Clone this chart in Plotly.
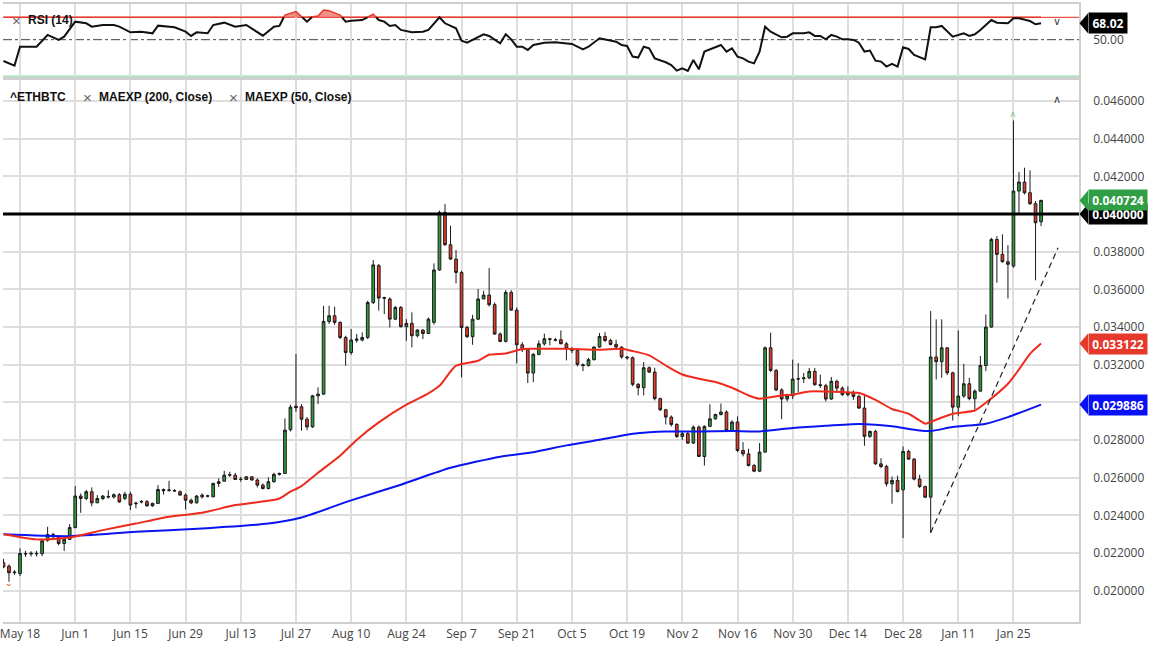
import pandas as pd
import plotly.graph_objects as go

# ---------------- data ----------------
dates = pd.bdate_range("2020-05-13", "2021-02-01")

opens = [0.02149,0.02131,0.02096,0.02092,0.02198,0.02196,0.02199,0.02197,0.02269,0.02299,
 0.02287,0.02251,0.02273,0.02336,0.02503,0.02490,0.02526,0.02467,0.02490,0.02501,
 0.02498,0.02510,0.02490,0.02513,0.02462,0.02471,0.02473,0.02451,0.02464,0.02538,
 0.02533,0.02532,0.02526,0.02508,0.02481,0.02467,0.02508,0.02502,0.02499,0.02570,
 0.02582,0.02614,0.02614,0.02591,0.02591,0.02605,0.02588,0.02561,0.02543,0.02579,
 0.02618,0.02623,0.02855,0.02980,0.02977,0.02911,0.02870,0.03035,0.03044,0.03430,
 0.03460,0.03425,0.03345,0.03265,0.03330,0.03331,0.03345,0.03530,0.03726,0.03557,
 0.03549,0.03442,0.03504,0.03402,0.03420,0.03354,0.03384,0.03366,0.03425,0.03703,
 0.04009,0.03837,0.03761,0.03690,0.03398,0.03349,0.03442,0.03549,0.03570,0.03519,
 0.03363,0.03324,0.03584,0.03490,0.03306,0.03280,0.03156,0.03255,0.03311,0.03338,
 0.03333,0.03333,0.03311,0.03285,0.03276,0.03200,0.03196,0.03227,0.03294,0.03350,
 0.03329,0.03308,0.03294,0.03241,0.03237,0.03096,0.03078,0.03184,0.03161,0.03020,
 0.02961,0.02922,0.02883,0.02819,0.02834,0.02784,0.02869,0.02713,0.02873,0.02913,
 0.02936,0.02949,0.02851,0.02896,0.02745,0.02727,0.02665,0.02635,0.02736,0.03290,
 0.03170,0.03066,0.03018,0.03035,0.03124,0.03126,0.03130,0.03165,0.03094,0.03089,
 0.03018,0.03112,0.03076,0.03041,0.03053,0.03032,0.02970,0.02820,0.02846,0.02674,
 0.02660,0.02568,0.02586,0.02536,0.02740,0.02699,0.02593,0.02554,0.02497,0.03241,
 0.03216,0.03290,0.03157,0.02975,0.03034,0.03099,0.03020,0.03060,0.03196,0.03400,
 0.03865,0.03786,0.03747,0.03724,0.04122,0.04170,0.04113,0.04055,0.03959]

highs = [0.02170,0.02140,0.02110,0.02225,0.02212,0.02210,0.02212,0.02272,0.02340,0.02308,
 0.02296,0.02278,0.02354,0.02556,0.02517,0.02535,0.02549,0.02508,0.02508,0.02534,
 0.02517,0.02519,0.02526,0.02526,0.02473,0.02482,0.02482,0.02468,0.02561,0.02543,
 0.02584,0.02540,0.02533,0.02517,0.02490,0.02508,0.02517,0.02510,0.02574,0.02597,
 0.02637,0.02632,0.02626,0.02605,0.02608,0.02608,0.02597,0.02570,0.02602,0.02627,
 0.02627,0.02915,0.02988,0.03257,0.02991,0.02923,0.03040,0.03080,0.03513,0.03513,
 0.03508,0.03430,0.03354,0.03390,0.03363,0.03372,0.03540,0.03756,0.03735,0.03561,
 0.03558,0.03512,0.03512,0.03442,0.03478,0.03389,0.03389,0.03451,0.03738,0.04018,
 0.04053,0.03938,0.03809,0.03699,0.03407,0.03465,0.03602,0.03593,0.03713,0.03531,
 0.03372,0.03596,0.03596,0.03504,0.03320,0.03285,0.03262,0.03329,0.03365,0.03343,
 0.03343,0.03382,0.03320,0.03294,0.03285,0.03207,0.03237,0.03297,0.03368,0.03373,
 0.03338,0.03333,0.03297,0.03246,0.03244,0.03103,0.03214,0.03191,0.03184,0.03025,
 0.02966,0.02931,0.02890,0.02843,0.02843,0.02878,0.02878,0.02878,0.02990,0.02940,
 0.02994,0.02958,0.02905,0.02926,0.02789,0.02754,0.02674,0.02784,0.03297,0.03370,
 0.03177,0.03075,0.03046,0.03227,0.03209,0.03156,0.03183,0.03183,0.03147,0.03099,
 0.03135,0.03121,0.03085,0.03085,0.03064,0.03041,0.03035,0.02851,0.02855,0.02704,
 0.02669,0.02607,0.02611,0.02766,0.02749,0.02704,0.02616,0.02558,0.03485,0.03441,
 0.03441,0.03294,0.03163,0.03382,0.03205,0.03131,0.03069,0.03246,0.03467,0.03874,
 0.03883,0.03892,0.03835,0.04497,0.04223,0.04246,0.04232,0.04069,0.04076]

lows = [0.02120,0.02048,0.02085,0.02078,0.02180,0.02182,0.02182,0.02184,0.02260,0.02278,
 0.02242,0.02212,0.02270,0.02331,0.02414,0.02481,0.02449,0.02467,0.02481,0.02490,
 0.02490,0.02467,0.02481,0.02429,0.02438,0.02464,0.02446,0.02446,0.02461,0.02511,
 0.02526,0.02526,0.02505,0.02432,0.02460,0.02463,0.02490,0.02496,0.02496,0.02552,
 0.02579,0.02605,0.02588,0.02579,0.02588,0.02586,0.02549,0.02538,0.02538,0.02574,
 0.02612,0.02620,0.02846,0.02950,0.02850,0.02853,0.02865,0.02991,0.03040,0.03416,
 0.03412,0.03336,0.03195,0.03253,0.03318,0.03324,0.03336,0.03522,0.03487,0.03469,
 0.03398,0.03437,0.03398,0.03327,0.03292,0.03345,0.03336,0.03363,0.03413,0.03700,
 0.03832,0.03756,0.03632,0.03133,0.03342,0.03306,0.03437,0.03549,0.03509,0.03359,
 0.03319,0.03319,0.03487,0.03207,0.03268,0.03103,0.03108,0.03250,0.03302,0.03303,
 0.03324,0.03318,0.03223,0.03262,0.03191,0.03166,0.03191,0.03223,0.03290,0.03320,
 0.03303,0.03285,0.03232,0.03227,0.03086,0.03037,0.03037,0.03156,0.03011,0.02954,
 0.02883,0.02872,0.02812,0.02801,0.02780,0.02780,0.02710,0.02665,0.02869,0.02908,
 0.02931,0.02843,0.02843,0.02736,0.02713,0.02660,0.02630,0.02630,0.02736,0.03162,
 0.03060,0.02911,0.03005,0.03018,0.03053,0.03103,0.03124,0.03089,0.03076,0.03005,
 0.03014,0.03050,0.03035,0.03032,0.03014,0.02965,0.02770,0.02811,0.02669,0.02651,
 0.02554,0.02462,0.02522,0.02280,0.02695,0.02586,0.02545,0.02492,0.02308,0.03122,
 0.03131,0.03145,0.02904,0.02927,0.03025,0.03011,0.02963,0.03057,0.03166,0.03397,
 0.03635,0.03742,0.03552,0.03715,0.04007,0.04104,0.04049,0.03648,0.03936]

closes = [0.02127,0.02096,0.02099,0.02198,0.02196,0.02199,0.02197,0.02265,0.02299,0.02287,
 0.02251,0.02273,0.02336,0.02503,0.02490,0.02526,0.02467,0.02490,0.02503,0.02498,
 0.02510,0.02472,0.02513,0.02455,0.02465,0.02474,0.02451,0.02464,0.02538,0.02531,
 0.02535,0.02530,0.02508,0.02481,0.02467,0.02503,0.02499,0.02504,0.02570,0.02579,
 0.02614,0.02616,0.02591,0.02592,0.02605,0.02588,0.02561,0.02543,0.02579,0.02618,
 0.02623,0.02853,0.02975,0.02972,0.02911,0.02870,0.03035,0.03044,0.03430,0.03460,
 0.03425,0.03345,0.03265,0.03331,0.03336,0.03345,0.03530,0.03730,0.03554,0.03553,
 0.03442,0.03504,0.03402,0.03420,0.03354,0.03384,0.03366,0.03442,0.03703,0.04009,
 0.03837,0.03761,0.03690,0.03398,0.03349,0.03442,0.03549,0.03570,0.03519,0.03363,
 0.03324,0.03584,0.03490,0.03306,0.03280,0.03156,0.03255,0.03311,0.03338,0.03335,
 0.03330,0.03311,0.03285,0.03276,0.03202,0.03196,0.03227,0.03294,0.03350,0.03329,
 0.03308,0.03294,0.03241,0.03237,0.03096,0.03078,0.03184,0.03161,0.03020,0.02961,
 0.02922,0.02883,0.02819,0.02834,0.02784,0.02869,0.02713,0.02873,0.02913,0.02936,
 0.02949,0.02851,0.02896,0.02745,0.02727,0.02665,0.02635,0.02736,0.03290,0.03170,
 0.03066,0.03018,0.03035,0.03124,0.03126,0.03130,0.03165,0.03094,0.03090,0.03018,
 0.03112,0.03076,0.03041,0.03053,0.03032,0.02970,0.02820,0.02846,0.02674,0.02660,
 0.02568,0.02586,0.02527,0.02740,0.02699,0.02593,0.02554,0.02497,0.03241,0.03216,
 0.03290,0.03157,0.02975,0.03034,0.03099,0.03020,0.03060,0.03196,0.03400,0.03865,
 0.03786,0.03747,0.03733,0.04122,0.04170,0.04113,0.04055,0.03954,0.040724]

ema50_idx = [0,6,12,18,24,30,36,42,48,50,52,54,57,61,64,68,73,77,79,82,86,88,91,94,96,
             102,108,112,114,117,120,123,126,129,132,135,137,138,141,143,146,149,152,155,
             158,161,164,166,167,168,172,176,178,182,184,186,188]
ema50_val = [0.02300,0.02273,0.02283,0.02322,0.02357,0.02393,0.02414,0.02455,0.02478,0.02490,
             0.02526,0.02556,0.02627,0.02717,0.02801,0.02894,0.02988,0.03048,0.03088,0.03195,
             0.03221,0.03253,0.03260,0.03283,0.03285,0.03285,0.03280,0.03285,0.03273,0.03250,
             0.03196,0.03148,0.03126,0.03108,0.03078,0.03037,0.03020,0.03023,0.03037,0.03041,
             0.03058,0.03058,0.03055,0.03050,0.03014,0.02965,0.02940,0.02904,0.02887,0.02897,
             0.02940,0.02957,0.02998,0.03099,0.03175,0.03258,0.033122]

ema200_idx = [0,12,24,36,48,54,63,72,81,90,96,102,108,114,117,120,126,132,137,143,149,155,
              158,161,166,168,172,178,182,188]
ema200_val = [0.02300,0.02290,0.02313,0.02331,0.02357,0.02389,0.02480,0.02563,0.02653,0.02712,
              0.02736,0.02772,0.02802,0.02834,0.02842,0.02846,0.02846,0.02848,0.02846,0.02864,
              0.02876,0.02885,0.02881,0.02873,0.02851,0.02848,0.02869,0.02887,0.02922,0.029886]

rsi_idx = [0,2,3,6,8,10,11,13,15,16,18,20,21,23,25,27,28,31,33,34,35,37,38,40,42,44,47,49,50,
           51,53,54,55,56,57,58,59,61,62,63,65,67,68,69,70,71,72,74,76,77,79,80,82,83,84,87,88,
           90,91,92,93,94,95,96,98,100,103,105,106,108,111,112,113,114,115,116,117,118,119,120,
           121,122,123,124,125,126,127,128,130,131,132,133,134,135,136,137,138,139,141,142,143,
           145,146,147,148,149,150,151,152,153,154,155,156,157,158,159,160,161,162,163,164,165,
           166,167,168,169,170,172,174,175,176,177,179,180,182,183,184,185,186,187,188]
rsi_val = [26.6,21.5,42.3,42.3,55.2,49.7,53.3,69.8,68.0,64.3,66.1,66.1,64.3,58.1,58.8,57.0,65.4,
           63.6,58.8,54.1,58.1,57.0,66.1,68.7,64.3,66.1,54.4,64.3,65.1,77.1,80.8,75.3,69.8,75.3,
           76.0,82.6,81.9,77.1,69.8,70.9,71.6,77.9,71.6,69.8,65.1,66.1,60.7,58.1,58.8,60.7,74.6,
           68.0,62.5,48.9,46.7,55.9,54.1,46.0,55.9,50.4,42.3,42.3,38.7,44.2,46.7,47.1,45.3,39.4,
           42.3,51.5,47.8,44.2,43.1,31.4,30.3,42.3,40.5,29.5,27.7,25.2,22.2,16.0,18.5,15.6,27.7,
           17.4,36.9,39.4,44.2,36.9,40.5,31.4,29.5,25.9,24.0,36.9,64.3,58.8,52.6,53.3,57.0,57.0,
           58.1,54.1,54.1,50.4,55.2,53.3,50.4,50.4,49.7,46.7,36.9,38.0,27.0,25.9,20.4,23.3,20.4,
           41.6,39.8,33.2,30.6,28.4,63.6,63.6,65.1,53.3,57.0,54.1,55.9,60.7,71.6,68.7,68.0,73.5,
           73.5,72.4,70.5,66.9,68.02]

rsi_upper, rsi_mid, rsi_lower = 74.6, 50.0, 10.0
level_line = 0.040
trend_start = ("2021-01-04", 0.02308)
trend_end = ("2021-02-04 02:00", 0.03821)

tick_dates = ["2020-05-18","2020-06-01","2020-06-15","2020-06-29","2020-07-13","2020-07-27",
              "2020-08-10","2020-08-24","2020-09-07","2020-09-21","2020-10-05","2020-10-19",
              "2020-11-02","2020-11-16","2020-11-30","2020-12-14","2020-12-28","2021-01-11",
              "2021-01-25"]
tick_labels = ["May 18","Jun 1","Jun 15","Jun 29","Jul 13","Jul 27","Aug 10","Aug 24","Sep 7",
               "Sep 21","Oct 5","Oct 19","Nov 2","Nov 16","Nov 30","Dec 14","Dec 28","Jan 11",
               "Jan 25"]
price_ticks = [0.020 + 0.002 * k for k in range(14)]

# ---------------- layout constants ----------------
W, H = 1154, 650
ML, MR, MT, MB = 0, 75, 4, 28
PW, PH = W - ML - MR, H - MT - MB
PRICE_RANGE = [0.018344, 0.047115]
PRICE_DOM = [0.0, 0.877]
RSI_RANGE = [8.46, 89.2]
RSI_DOM = [0.8811, 1.0]
X_RANGE = ["2020-05-12 22:00", "2021-02-09 21:00"]

GREEN = "#2e9a3c"
RED = "#e5392b"
BLUE = "#0a14f0"
GRID = "#dedede"
FONT = "Open Sans"

# price tick labels that sit underneath a value tag are hidden (as in the reference)
tag_values = [level_line, closes[-1], ema50_val[-1], ema200_val[-1]]
price_tick_labels = ["" if any(abs(v - t) < 0.0005 for t in tag_values) else f"{v:.6f}"
                     for v in price_ticks]

def px_x(px):
    return px / PW

def px_y(py):
    return (MT + PH - py) / PH

def val_y(v, rng, dom):
    return dom[0] + (v - rng[0]) / (rng[1] - rng[0]) * (dom[1] - dom[0])

def frac_date(f):
    i = int(f)
    return dates[i] + pd.Timedelta(days=f - i)

fig = go.Figure()

# ---------------- price panel ----------------
fig.add_trace(go.Candlestick(
    x=dates, open=opens, high=highs, low=lows, close=closes,
    increasing=dict(fillcolor=GREEN, line=dict(color="#1b1b1b", width=1)),
    decreasing=dict(fillcolor=RED, line=dict(color="#1b1b1b", width=1)),
    whiskerwidth=0, xaxis="x", yaxis="y", showlegend=False, hoverinfo="skip"))

fig.add_trace(go.Scatter(x=[dates[i] for i in ema200_idx], y=ema200_val, mode="lines",
                         line=dict(color=BLUE, width=2, shape="spline", smoothing=0.6),
                         xaxis="x", yaxis="y", showlegend=False, hoverinfo="skip"))
fig.add_trace(go.Scatter(x=[dates[i] for i in ema50_idx], y=ema50_val, mode="lines",
                         line=dict(color="#ee2a1c", width=2, shape="spline", smoothing=0.6),
                         xaxis="x", yaxis="y", showlegend=False, hoverinfo="skip"))
fig.add_trace(go.Scatter(x=[trend_start[0], trend_end[0]], y=[trend_start[1], trend_end[1]],
                         mode="lines", line=dict(color="#222", width=1.2, dash="6px,4px"),
                         xaxis="x", yaxis="y", showlegend=False, hoverinfo="skip"))

# ---------------- RSI panel ----------------
xs, yb, yr = [], [], []
for k in range(len(rsi_idx)):
    i0, v0 = rsi_idx[k], rsi_val[k]
    if k > 0:
        ip, vp = rsi_idx[k - 1], rsi_val[k - 1]
        if (vp - rsi_upper) * (v0 - rsi_upper) < 0:
            t = (rsi_upper - vp) / (v0 - vp)
            xs.append(frac_date(ip + t * (i0 - ip)))
            yb.append(rsi_upper)
            yr.append(rsi_upper)
    xs.append(dates[i0])
    yb.append(v0 if v0 <= rsi_upper else None)
    yr.append(max(v0, rsi_upper))

fig.add_trace(go.Scatter(x=xs, y=[rsi_upper] * len(xs), mode="lines", line=dict(width=0),
                         xaxis="x2", yaxis="y2", showlegend=False, hoverinfo="skip"))
fig.add_trace(go.Scatter(x=xs, y=yr, mode="lines", fill="tonexty",
                         fillcolor="rgba(232,70,55,0.6)", line=dict(color=RED, width=1.5),
                         xaxis="x2", yaxis="y2", showlegend=False, hoverinfo="skip"))
fig.add_trace(go.Scatter(x=xs, y=yb, mode="lines", line=dict(color="#111", width=2),
                         connectgaps=False, xaxis="x2", yaxis="y2", showlegend=False,
                         hoverinfo="skip"))

# ---------------- shapes ----------------
shapes = []
shapes.append(dict(type="line", xref="paper", yref="y2", x0=0, x1=1, y0=rsi_upper, y1=rsi_upper,
                   line=dict(color="#ea5548", width=1.2), layer="below"))
shapes.append(dict(type="line", xref="paper", yref="y2", x0=0, x1=1, y0=rsi_mid, y1=rsi_mid,
                   line=dict(color="#444", width=1, dash="dashdot"), layer="below"))
shapes.append(dict(type="line", xref="paper", yref="y2", x0=0, x1=1, y0=rsi_lower, y1=rsi_lower,
                   line=dict(color="#8fdca6", width=1.2), layer="below"))
shapes.append(dict(type="line", xref="paper", yref="y", x0=0, x1=1, y0=level_line, y1=level_line,
                   line=dict(color="#000", width=3)))
# separator band between panels
shapes.append(dict(type="rect", xref="paper", yref="paper", x0=0, x1=1,
                   y0=PRICE_DOM[1], y1=RSI_DOM[0], fillcolor="#cfcfcf", line=dict(width=0)))

annotations = []

def add_tag(text, v, rng, dom, color, right_px):
    yc = val_y(v, rng, dom)
    h = 10.0 / PH
    x0, x1 = px_x(PW + 0.5), px_x(PW + 9)
    shapes.append(dict(type="path", xref="paper", yref="paper",
                       path=f"M{x0},{yc} L{x1},{yc + h} L{x1},{yc - h} Z",
                       fillcolor=color, line=dict(width=0)))
    annotations.append(dict(xref="paper", yref="paper", x=x1, y=yc, xanchor="left",
                            yanchor="middle", text=f"<b>{text}</b>", showarrow=False,
                            font=dict(family=FONT, size=12, color="white"),
                            bgcolor=color, width=right_px - PW - 9 - 2, height=18,
                            borderpad=1, align="center"))

add_tag("0.040000", level_line, PRICE_RANGE, PRICE_DOM, "#000000", 1146)
add_tag(f"{closes[-1]:.6f}", closes[-1], PRICE_RANGE, PRICE_DOM, "#2f9e44", 1146)
add_tag(f"{ema50_val[-1]:.6f}", ema50_val[-1], PRICE_RANGE, PRICE_DOM, "#e5392b", 1146)
add_tag(f"{ema200_val[-1]:.6f}", ema200_val[-1], PRICE_RANGE, PRICE_DOM, "#0a10f5", 1146)
add_tag(f"{rsi_val[-1]:.2f}", rsi_val[-1], RSI_RANGE, RSI_DOM, "#000000", 1126)

def label(px, py, text, size=12, color="#111", family="Liberation Sans", bold=False):
    annotations.append(dict(xref="paper", yref="paper", x=px_x(px), y=px_y(py),
                            xanchor="left", yanchor="middle", showarrow=False,
                            text=f"<b>{text}</b>" if bold else text,
                            font=dict(family=family, size=size, color=color)))

label(7, 20, "×", 15, "#666")
label(23, 20, "RSI (14)", 12, "#111", bold=True)
label(5, 97, "^ETHBTC", 12, "#111", bold=True)
label(78, 97, "×", 15, "#666")
label(94, 97, "MAEXP (200, Close)", 12, "#111", bold=True)
label(225, 97, "×", 15, "#666")
label(241, 97, "MAEXP (50, Close)", 12, "#111", bold=True)
label(1051, 22, "∨", 11, "#444", family="DejaVu Sans")
label(1051, 99, "∧", 11, "#444", family="DejaVu Sans")
# high / low markers
annotations.append(dict(x=dates[183], y=highs[183], xref="x", yref="y", yshift=4,
                        text="^", showarrow=False, font=dict(size=10, color="#4cbb6c")))
annotations.append(dict(x=dates[1], y=lows[1], xref="x", yref="y", yshift=-7,
                        text="ˇ", showarrow=False, font=dict(size=13, color="#e8594c")))

fig.update_layout(
    width=W, height=H, margin=dict(l=ML, r=MR, t=MT, b=MB),
    paper_bgcolor="white", plot_bgcolor="white", showlegend=False,
    font=dict(family=FONT, size=12, color="#444"),
    shapes=shapes, annotations=annotations,
    xaxis=dict(domain=[0, 1], anchor="y", range=X_RANGE, type="date",
               rangebreaks=[dict(bounds=["sat", "mon"])], rangeslider=dict(visible=False),
               tickmode="array", tickvals=tick_dates, ticktext=tick_labels,
               showgrid=True, gridcolor=GRID, gridwidth=1.5, ticks="",
               ticklabeloverflow="allow",
               showline=True, mirror=True, linecolor="#cfcfcf", linewidth=1.5,
               tickfont=dict(family=FONT, size=12, color="#444"), zeroline=False),
    xaxis2=dict(domain=[0, 1], anchor="y2", matches="x", type="date",
                rangebreaks=[dict(bounds=["sat", "mon"])],
                tickmode="array", tickvals=tick_dates, showticklabels=False,
                showgrid=True, gridcolor=GRID, gridwidth=1.5, ticks="",
                showline=True, mirror=True, linecolor="#cfcfcf", linewidth=1.5, zeroline=False),
    yaxis=dict(domain=PRICE_DOM, range=PRICE_RANGE, side="right", anchor="x",
               tickmode="array", tickvals=price_ticks, ticktext=price_tick_labels,
               showgrid=True, gridcolor=GRID, gridwidth=1.5, ticks="", zeroline=False,
               showline=True, linecolor="#cfcfcf", linewidth=1.5, ticklabelstandoff=10,
               tickfont=dict(family=FONT, size=12, color="#444")),
    yaxis2=dict(domain=RSI_DOM, range=RSI_RANGE, side="right", anchor="x2",
                tickmode="array", tickvals=[rsi_mid], ticktext=["50.00"],
                showgrid=False, ticks="", zeroline=False, showline=True,
                linecolor="#cfcfcf", linewidth=1.5, ticklabelstandoff=10,
                tickfont=dict(family=FONT, size=12, color="#444")),
)

fig.write_html("out.html", config={"displayModeBar": False},
               post_script="document.body.style.margin='0';document.body.style.overflow='hidden';")
